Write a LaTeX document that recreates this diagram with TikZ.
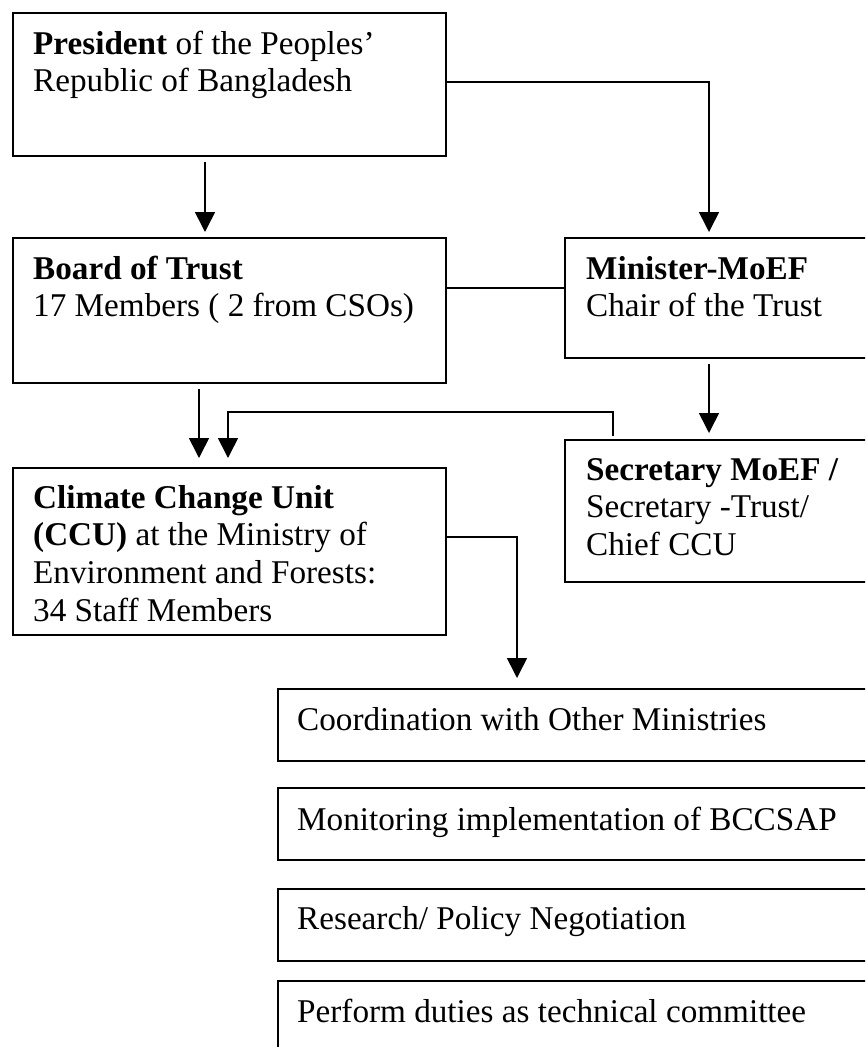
\documentclass[tikz,border=0pt]{standalone}
\usepackage{fontspec}
\setmainfont{Liberation Serif}
\usetikzlibrary{arrows.meta,calc}
\tikzset{
  box/.style={draw, line width=1.8pt, rectangle, inner sep=0pt, anchor=north west},
  txt/.style={anchor=base west, inner sep=0pt, font=\fontsize{33.2}{37.7}\selectfont},
  conn/.style={line width=1.6pt},
  arr/.style={conn, -{Triangle[width=20pt,length=20pt]}},
}
\newcommand{\lines}[1]{\parbox[t]{560pt}{\raggedright #1}}
\begin{document}
\begin{tikzpicture}[x=1pt,y=-1pt]
\path[use as bounding box] (0,0) rectangle (865,1047);
\clip (0,0) rectangle (865,1047);
% boxes
\node[box, minimum width=433, minimum height=143] (pres) at (12,12) {};
\node[box, minimum width=433, minimum height=145] (board) at (12,237) {};
\node[box, minimum width=316, minimum height=120] (min) at (564,237) {};
\node[box, minimum width=316, minimum height=142] (sec) at (564,439) {};
\node[box, minimum width=433, minimum height=167] (ccu) at (12,467) {};
\node[box, minimum width=603, minimum height=72] (coord) at (277,688) {};
\node[box, minimum width=603, minimum height=72] (mon) at (277,787) {};
\node[box, minimum width=603, minimum height=72] (res) at (277,888) {};
\node[box, minimum width=603, minimum height=72] (perf) at (277,980) {};
% texts
\node[txt] (presT) at (33,54) {\lines{\textbf{President} of the Peoples'\\Republic of Bangladesh}};
\node[txt] (boardT) at (33,279) {\lines{\textbf{Board of Trust}\\17 Members ( 2 from CSOs)}};
\node[txt] (minT) at (586,279) {\lines{\textbf{Minister-MoEF}\\Chair of the Trust}};
\node[txt] (secT) at (586,480) {\lines{\textbf{Secretary MoEF /}\\Secretary -Trust/\\Chief CCU}};
\node[txt] (ccuT) at (33,508) {\lines{\textbf{Climate Change Unit}\\\textbf{(CCU)} at the Ministry of\\Environment and Forests:\\34 Staff Members}};
\node[txt] (coordT) at (297,730) {Coordination with Other Ministries};
\node[txt] (monT) at (297,830) {Monitoring implementation of BCCSAP};
\node[txt] (resT) at (297,929) {Research/ Policy Negotiation};
\node[txt] (perfT) at (297,1022) {Perform duties as technical committee};
% connectors
\draw[arr, shorten <=5pt, shorten >=5pt] ([xshift=193pt]pres.south west) -- ([xshift=193pt]board.north west);
\draw[arr, shorten >=5pt] ([yshift=2.5pt]pres.east) -| ([xshift=145pt]min.north west);
\draw[conn] ([yshift=10pt]min.west) -- ([yshift=10pt]min.west -| board.east);
\draw[arr, shorten <=5pt, shorten >=6pt] ([xshift=145pt]min.south west) -- ([xshift=145pt]sec.north west);
\draw[arr, shorten >=9pt] ([xshift=49pt,yshift=3pt]sec.north west) -- ++(0,-24) -| ([xshift=216pt]ccu.north west);
\draw[arr, shorten <=5pt, shorten >=9pt] ([xshift=187pt]board.south west) -- ([xshift=187pt]ccu.north west);
\draw[arr, shorten >=10pt] ([yshift=14.5pt]ccu.east) -| ([xshift=240pt]coord.north west);
\end{tikzpicture}
\end{document}
